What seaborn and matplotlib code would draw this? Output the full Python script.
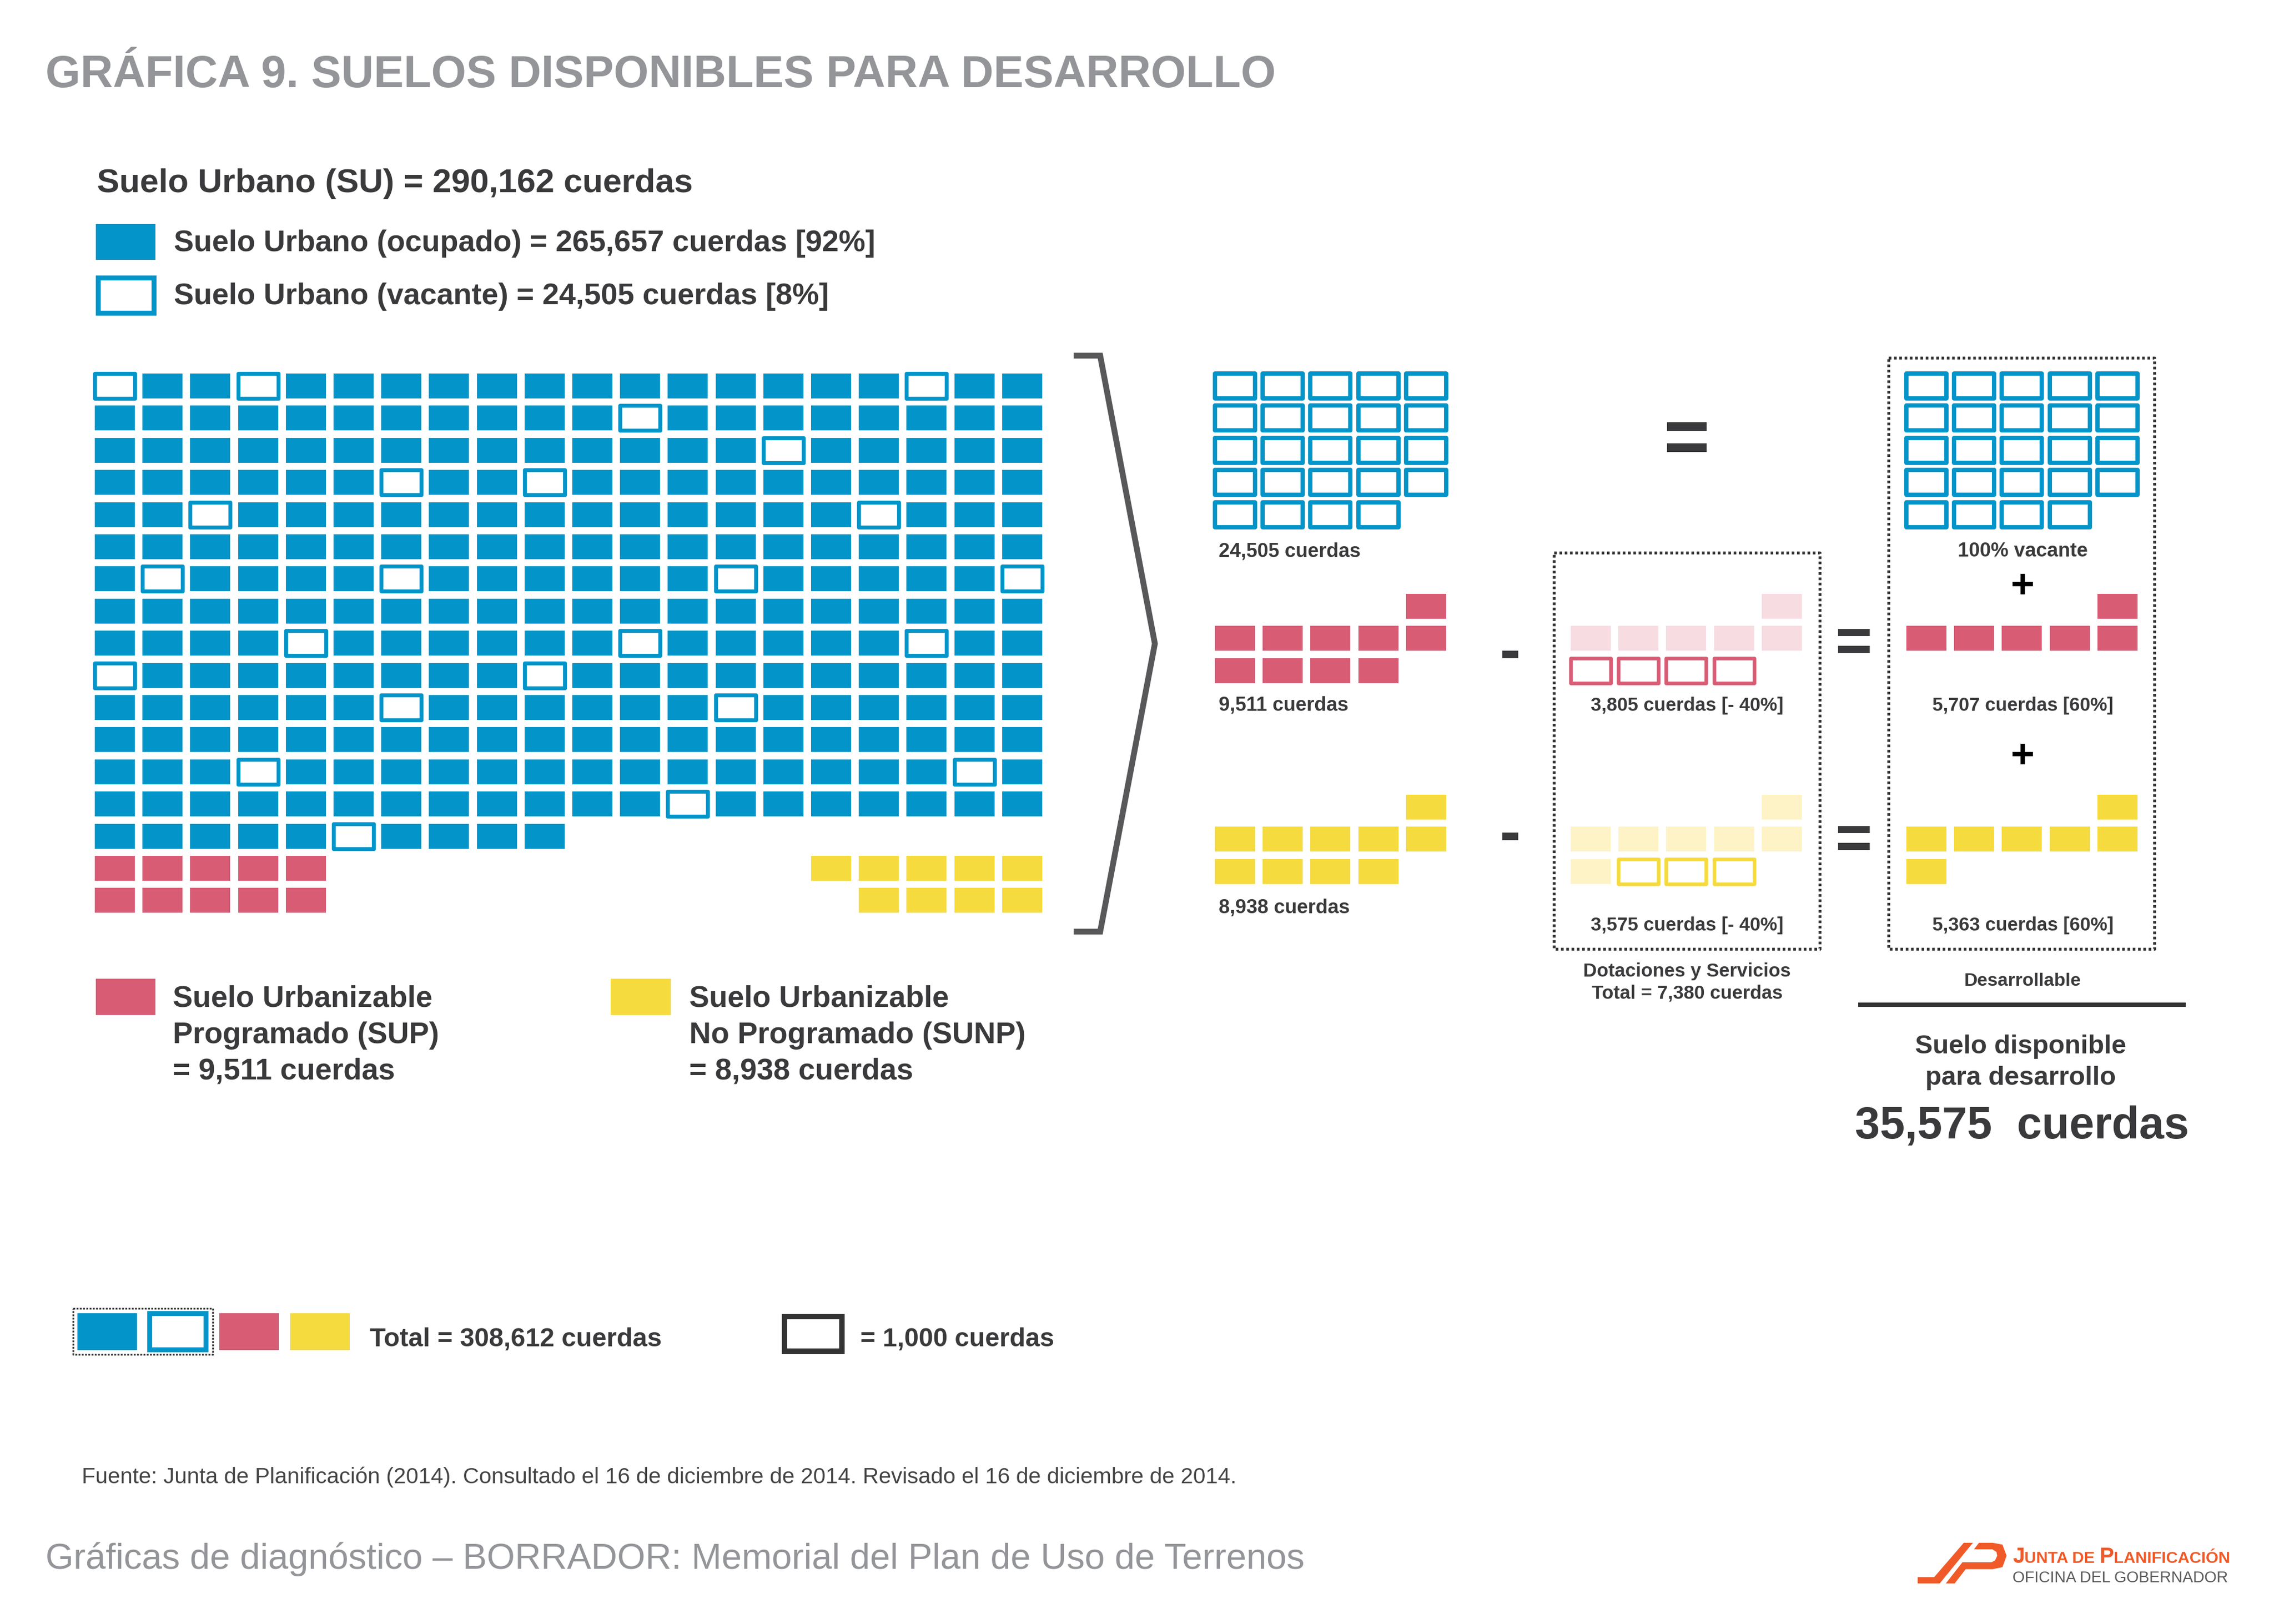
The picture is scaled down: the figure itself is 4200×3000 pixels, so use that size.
import numpy as np
import pandas as pd
import matplotlib
matplotlib.use("Agg")
import matplotlib.pyplot as plt
import seaborn as sns
from matplotlib.path import Path
from matplotlib.patches import Rectangle, Polygon
from matplotlib.offsetbox import TextArea, HPacker, AnnotationBbox

# ------------------------------------------------------------------ data
SU_TOTAL = 290162
SU_OCUPADO = 265657
SU_VACANTE = 24505
SUP_TOTAL = 9511
SUNP_TOTAL = 8938
SUP_DOT = 3805
SUNP_DOT = 3575
SUP_DES = 5707
SUNP_DES = 5363
DOT_TOTAL = 7380
DISPONIBLE = 35575
GRAN_TOTAL = 308612
UNIT = 1000

GRID_COLS = 20
SU_CELLS = 290
SUP_CELLS_MAIN = 10
SUNP_CELLS_MAIN = 9
VACANT_CELLS = [(0, 0), (0, 3), (0, 17), (1, 11), (2, 14), (3, 6), (3, 9),
                (4, 2), (4, 16), (6, 1), (6, 6), (6, 13), (6, 19), (8, 4),
                (8, 11), (8, 17), (9, 0), (9, 9), (10, 6), (10, 13), (12, 3),
                (12, 18), (13, 12), (14, 5)]
BLOCK_VACANT = 24
BLOCK_SUP = 10
BLOCK_SUNP = 10
SUP_REMOVED = 4
SUNP_REMOVED = 3
BLOCK_ORDER = [(0, 4), (1, 0), (1, 1), (1, 2), (1, 3), (1, 4),
               (2, 0), (2, 1), (2, 2), (2, 3)]

# ------------------------------------------------------------------ style
BLUE = "#0395C9"
PINK = "#D95C75"
YELLOW = "#F6DB3F"
PINK_L = "#F7DCE2"
YELLOW_L = "#FDF3C6"
DARK = "#3A3A3C"
GRAY = "#939598"
ORANGE = "#F05A28"
BRACKET = "#58585A"

sns.set_theme(style="white")
plt.rcParams["font.family"] = ["Liberation Sans", "DejaVu Sans"]

W, H = 4200, 3000
fig = plt.figure(figsize=(14, 10), dpi=300, facecolor="white")
bg = fig.add_axes([0, 0, 1, 1])
bg.set_xlim(0, W)
bg.set_ylim(H, 0)
bg.axis("off")

PX, PY = 88.2, 59.4
A = 46 / 74
RECT = Path([(-1, -A), (1, -A), (1, A), (-1, A), (-1, -A)],
            [Path.MOVETO, Path.LINETO, Path.LINETO, Path.LINETO, Path.CLOSEPOLY])
CELL_S = (74 * 0.24) ** 2


def cell_axes(cx0, cy0, ncols, nrows):
    left = cx0 - PX / 2
    top = cy0 - PY / 2
    ax = fig.add_axes([left / W, 1 - (top + nrows * PY) / H,
                       ncols * PX / W, nrows * PY / H])
    ax.patch.set_alpha(0)
    return ax


def finish(ax, ncols, nrows):
    ax.set_xlim(-0.5, ncols - 0.5)
    ax.set_ylim(nrows - 0.5, -0.5)
    ax.axis("off")


def draw_cells(ax, cells, face, edge="none", lw=0.0):
    if len(cells) == 0:
        return
    df = pd.DataFrame(cells, columns=["row", "col"])
    sns.scatterplot(data=df, x="col", y="row", ax=ax, marker=RECT, s=CELL_S,
                    facecolor=face, edgecolor=edge, linewidth=lw,
                    legend=False, zorder=3, clip_on=False)


# ------------------------------------------------------------------ main waffle
vac = set(VACANT_CELLS)
su = [(i // GRID_COLS, i % GRID_COLS) for i in range(SU_CELLS)]
occupied = [c for c in su if c not in vac]
vacant = [c for c in su if c in vac]
start_row = int(np.ceil(SU_CELLS / GRID_COLS))
sup_main = [(start_row + i // 5, i % 5) for i in range(SUP_CELLS_MAIN)]
sunp_main = [(start_row + i // 5, GRID_COLS - 1 - i % 5) for i in range(SUNP_CELLS_MAIN)]

ax_main = cell_axes(212, 713, GRID_COLS, start_row + 2)
draw_cells(ax_main, occupied, BLUE)
draw_cells(ax_main, vacant, "white", BLUE, 1.75)
draw_cells(ax_main, sup_main, PINK)
draw_cells(ax_main, sunp_main, YELLOW)
finish(ax_main, GRID_COLS, start_row + 2)

# ------------------------------------------------------------------ blocks
vac_block = [(i // 5, i % 5) for i in range(BLOCK_VACANT)]
sup_keep = BLOCK_ORDER[:BLOCK_SUP - SUP_REMOVED]
sup_rem = BLOCK_ORDER[BLOCK_SUP - SUP_REMOVED:BLOCK_SUP]
sunp_keep = BLOCK_ORDER[:BLOCK_SUNP - SUNP_REMOVED]
sunp_rem = BLOCK_ORDER[BLOCK_SUNP - SUNP_REMOVED:BLOCK_SUNP]

COLX = [2281, 2938, 3558]
ROWY = [713, 1120, 1491]

# left column (inputs)
ax = cell_axes(COLX[0], ROWY[0], 5, 5)
draw_cells(ax, vac_block, "white", BLUE, 1.9)
finish(ax, 5, 5)
ax = cell_axes(COLX[0], ROWY[1], 5, 3)
draw_cells(ax, BLOCK_ORDER[:BLOCK_SUP], PINK)
finish(ax, 5, 3)
ax = cell_axes(COLX[0], ROWY[2], 5, 3)
draw_cells(ax, BLOCK_ORDER[:BLOCK_SUNP], YELLOW)
finish(ax, 5, 3)

# middle column (dotaciones)
ax = cell_axes(COLX[1], ROWY[1], 5, 3)
draw_cells(ax, sup_keep, PINK_L)
draw_cells(ax, sup_rem, "white", PINK, 1.6)
finish(ax, 5, 3)
ax = cell_axes(COLX[1], ROWY[2], 5, 3)
draw_cells(ax, sunp_keep, YELLOW_L)
draw_cells(ax, sunp_rem, "white", YELLOW, 1.6)
finish(ax, 5, 3)

# right column (desarrollable)
ax = cell_axes(COLX[2], ROWY[0], 5, 5)
draw_cells(ax, vac_block, "white", BLUE, 1.9)
finish(ax, 5, 5)
ax = cell_axes(COLX[2], ROWY[1], 5, 3)
draw_cells(ax, sup_keep, PINK)
finish(ax, 5, 3)
ax = cell_axes(COLX[2], ROWY[2], 5, 3)
draw_cells(ax, sunp_keep, YELLOW)
finish(ax, 5, 3)

# ------------------------------------------------------------------ annotations
def txt(x, y, s, size, weight="bold", color=DARK, ha="left", va="baseline"):
    bg.text(x, y, s, fontsize=size, fontweight=weight, color=color, ha=ha, va=va)


def fmt(v):
    return f"{v:,}"


txt(84, 161, "GRÁFICA 9. SUELOS DISPONIBLES PARA DESARROLLO", 19.95, color=GRAY)
txt(179, 355, f"Suelo Urbano (SU) = {fmt(SU_TOTAL)} cuerdas", 14.95)

pct_o = round(100 * SU_OCUPADO / SU_TOTAL)
pct_v = round(100 * SU_VACANTE / SU_TOTAL)
bg.add_patch(Rectangle((177, 414), 110, 66, fc=BLUE, ec="none"))
bg.add_patch(Rectangle((181, 513), 103, 65, fc="white", ec=BLUE, lw=2.2))
txt(321, 464, f"Suelo Urbano (ocupado) = {fmt(SU_OCUPADO)} cuerdas [{pct_o}%]", 13.3)
txt(321, 562, f"Suelo Urbano (vacante) = {fmt(SU_VACANTE)} cuerdas [{pct_v}%]", 13.3)

# bracket
bg.plot([1983, 2032, 2133, 2032, 1983], [657, 657, 1189, 1721, 1721],
        color=BRACKET, lw=2.6, solid_joinstyle="miter", solid_capstyle="butt")

# labels of blocks
LS = 8.8
txt(2251, 1028, f"{fmt(SU_VACANTE)} cuerdas", LS)
txt(2251, 1313, f"{fmt(SUP_TOTAL)} cuerdas", LS)
txt(2251, 1686, f"{fmt(SUNP_TOTAL)} cuerdas", LS)
txt(3116, 1313, f"{fmt(SUP_DOT)} cuerdas [- 40%]", 8.4, ha="center")
txt(3116, 1719, f"{fmt(SUNP_DOT)} cuerdas [- 40%]", 8.4, ha="center")
txt(3736, 1028, "100% vacante", LS, ha="center")
txt(3736, 1313, f"{fmt(SUP_DES)} cuerdas [60%]", 8.4, ha="center")
txt(3736, 1719, f"{fmt(SUNP_DES)} cuerdas [60%]", 8.4, ha="center")

# operators
txt(3116, 818, "=", 35, ha="center", va="center")
txt(2789, 1208, "-", 28, ha="center", va="center")
txt(2789, 1545, "-", 28, ha="center", va="center")
txt(3423, 1192, "=", 28, ha="center", va="center")
txt(3423, 1557, "=", 28, ha="center", va="center")
txt(3736, 1085, "+", 18, ha="center", va="center", color="black")
txt(3736, 1399, "+", 18, ha="center", va="center", color="black")

# dotted boxes
for (x0, x1, y0, y1) in [(2870, 3361, 1021, 1753), (3488, 3979, 661, 1753)]:
    bg.plot([x0, x1, x1, x0, x0], [y0, y0, y1, y1, y0], color="#333333",
            lw=1.3, linestyle=(0, (0.9, 0.9)))

txt(3116, 1804, "Dotaciones y Servicios", 8.4, ha="center")
txt(3116, 1844, f"Total = {fmt(DOT_TOTAL)} cuerdas", 8.4, ha="center")
txt(3736, 1821, "Desarrollable", 8.2, ha="center")
bg.plot([3432, 4037], [1856, 1856], color="#333333", lw=1.9, solid_capstyle="butt")
txt(3732, 1946, "Suelo disponible", 11.7, ha="center")
txt(3732, 2004, "para desarrollo", 11.7, ha="center")
txt(3735, 2103, f"{fmt(DISPONIBLE)}  cuerdas", 19.9, ha="center")

# SUP / SUNP legends
bg.add_patch(Rectangle((177, 1808), 110, 67, fc=PINK, ec="none"))
txt(319, 1860, "Suelo Urbanizable", 13.3)
txt(319, 1927, "Programado (SUP)", 13.3)
txt(319, 1993, f"= {fmt(SUP_TOTAL)} cuerdas", 13.3)
bg.add_patch(Rectangle((1128, 1808), 111, 67, fc=YELLOW, ec="none"))
txt(1273, 1860, "Suelo Urbanizable", 13.3)
txt(1273, 1927, "No Programado (SUNP)", 13.3)
txt(1273, 1993, f"= {fmt(SUNP_TOTAL)} cuerdas", 13.3)

# bottom legend
bg.plot([135, 393, 393, 135, 135], [2417, 2417, 2502, 2502, 2417], color="#333333",
        lw=0.8, linestyle=(0, (1, 0.8)))
bg.add_patch(Rectangle((143, 2426), 110, 68, fc=BLUE, ec="none"))
bg.add_patch(Rectangle((276, 2426), 104, 67, fc="white", ec=BLUE, lw=2.2))
bg.add_patch(Rectangle((405, 2426), 110, 68, fc=PINK, ec="none"))
bg.add_patch(Rectangle((536, 2426), 110, 68, fc=YELLOW, ec="none"))
txt(683, 2487, f"Total = {fmt(GRAN_TOTAL)} cuerdas", 11.6)
bg.add_patch(Rectangle((1449, 2432), 106, 64, fc="white", ec="#333333", lw=2.4))
txt(1589, 2487, f"= {fmt(UNIT)} cuerdas", 11.5)

# footer
txt(151, 2740, "Fuente: Junta de Planificación (2014). Consultado el 16 de diciembre de 2014. "
    "Revisado el 16 de diciembre de 2014.", 9.86, weight="normal", color="#444444")
txt(84, 2898, "Gráficas de diagnóstico – BORRADOR: Memorial del Plan de Uso de Terrenos",
    16, weight="normal", color=GRAY)

# logo
def lp(pts):
    return [(3400 + zx / 1.96, 2800 + zy / 3) for zx, zy in pts]


bg.add_patch(Polygon(lp([(278, 340), (338, 340), (445, 150), (478, 150),
                          (358, 375), (278, 375)]), closed=True, fc=ORANGE, ec="none"))
bg.add_patch(Polygon(lp([(380, 375), (440, 258), (545, 258), (558, 248), (566, 222),
                          (563, 200), (548, 186), (482, 186), (500, 150), (550, 150),
                          (585, 160), (600, 222), (585, 285), (550, 296), (452, 296),
                          (412, 375)]), closed=True, fc=ORANGE, ec="none"))
big = dict(fontsize=9.6, fontweight="bold", color=ORANGE)
small = dict(fontsize=7.2, fontweight="bold", color=ORANGE)
pack = HPacker(children=[TextArea("J", textprops=big), TextArea("UNTA DE ", textprops=small),
                         TextArea("P", textprops=big), TextArea("LANIFICACIÓN", textprops=small)],
               align="baseline", pad=0, sep=0)
bg.add_artist(AnnotationBbox(pack, (3717, 2895), xycoords="data", box_alignment=(0, 0),
                             frameon=False, pad=0))
txt(3717, 2923, "OFICINA DEL GOBERNADOR", 7.0, weight="normal", color="#5A5A5C")

fig.savefig("out.png", dpi=300, facecolor="white")
